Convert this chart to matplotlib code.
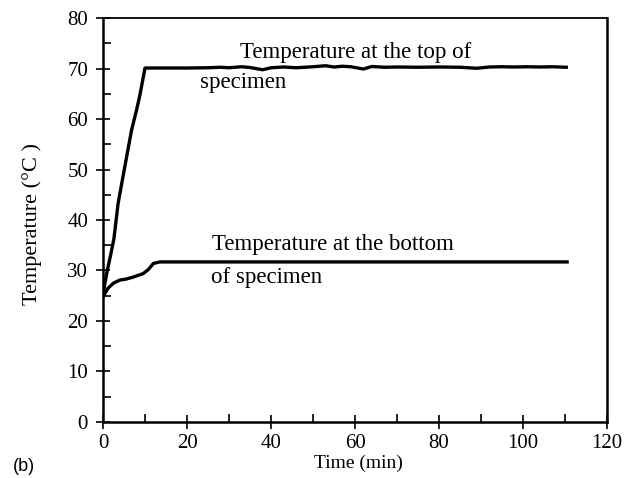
import matplotlib
matplotlib.use("Agg")
import matplotlib.pyplot as plt
from matplotlib.ticker import MultipleLocator

plt.rcParams['font.family'] = ['Liberation Serif', 'DejaVu Serif']

# top of specimen: fast ramp, then held near 70 C
t_top = [0, 0.25, 0.9, 1.8, 2.6, 3.6, 5.2, 6.8, 8.0, 8.8, 10.0,
         15, 20, 25, 28, 30, 33, 35, 38, 40, 43, 46, 50, 53, 55, 57,
         59, 62, 64, 67, 70, 75, 80, 85, 89, 92, 95, 98, 101, 104, 107, 110.3]
T_top = [25.0, 26.5, 29.5, 33.0, 36.3, 43.3, 50.6, 57.8, 61.8, 64.8, 70.1,
         70.1, 70.1, 70.15, 70.25, 70.15, 70.35, 70.2, 69.75, 70.15, 70.3, 70.15, 70.35, 70.55, 70.3, 70.45,
         70.35, 69.9, 70.4, 70.25, 70.3, 70.25, 70.3, 70.25, 70.05, 70.3, 70.35, 70.3, 70.35, 70.3, 70.35, 70.25]

# bottom of specimen: slow rise, levels off around 31.7 C
t_bot = [0, 0.5, 1.2, 2.5, 4.0, 5.5, 7.2, 9.6, 10.8, 12.0, 13.6, 20, 40, 60, 80, 100, 110.5]
T_bot = [24.8, 25.5, 26.5, 27.5, 28.1, 28.3, 28.7, 29.4, 30.2, 31.4, 31.7, 31.7, 31.7, 31.7, 31.7, 31.7, 31.7]

x_ticks = [0, 20, 40, 60, 80, 100, 120]
y_ticks = [0, 10, 20, 30, 40, 50, 60, 70, 80]

fig = plt.figure(figsize=(6.25, 4.78), dpi=100)
ax = fig.add_axes([0.1648, 0.1172, 0.8064, 0.8451])

ax.plot(t_top, T_top, color='black', lw=2.4, solid_joinstyle='round')
ax.plot(t_bot, T_bot, color='black', lw=2.4, solid_joinstyle='round')

ax.set_xlim(0, 120)
ax.set_ylim(0, 80)
ax.set_xticks(x_ticks)
ax.set_yticks(y_ticks)
ax.xaxis.set_minor_locator(MultipleLocator(10))
ax.yaxis.set_minor_locator(MultipleLocator(5))
ax.tick_params(which='major', direction='inout', length=9.5, width=1.2,
               labelsize=15, pad=4)
ax.tick_params(which='minor', direction='in', length=5.5, width=1.2)
ax.tick_params(axis='y', which='major', pad=6)

for side in ['left', 'bottom', 'right']:
    ax.spines[side].set_linewidth(1.8)
ax.spines['top'].set_linewidth(1.3)

ax.set_xlabel('Time (min)', fontsize=14)
ax.set_ylabel('Temperature (°C )', fontsize=16)
ax.xaxis.set_label_coords(0.506, -0.08)
ax.yaxis.set_label_coords(-0.121, 0.49)

ax.text(32.5, 72.0, 'Temperature at the top of', fontsize=16.5, va='baseline')
ax.text(23.0, 66.2, 'specimen', fontsize=16.5, va='baseline')
ax.text(26.0, 34.0, 'Temperature at the bottom', fontsize=16.5, va='baseline')
ax.text(25.7, 27.5, 'of specimen', fontsize=16.5, va='baseline')

fig.text(0.021, 0.014, '(b)', fontsize=13, family=['Liberation Sans', 'DejaVu Sans'])

fig.savefig('out.png', dpi=100)
